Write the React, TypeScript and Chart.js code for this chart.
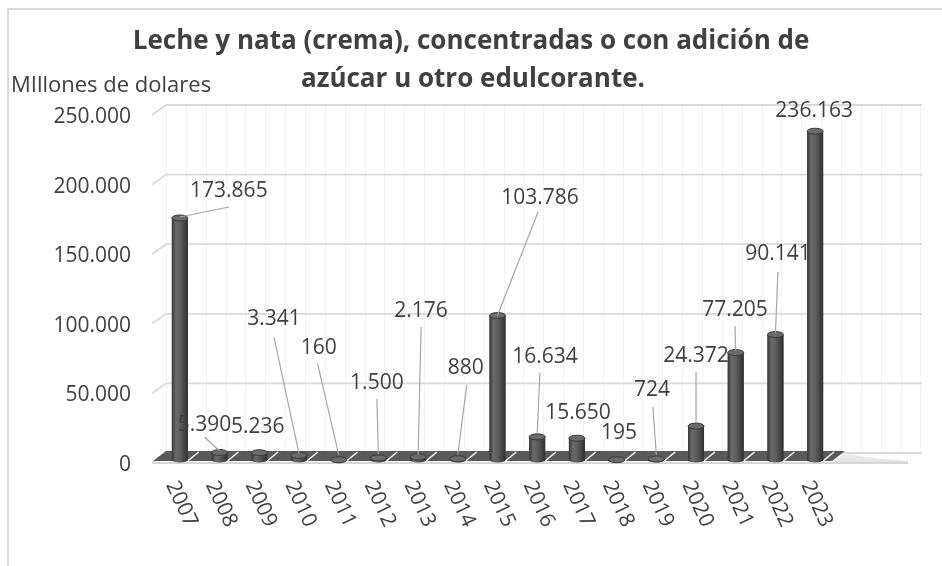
import { useEffect, useRef } from 'react';
import { Chart, registerables } from 'chart.js';

Chart.register(...registerables);

// ---------- data ----------
const years = ['2007', '2008', '2009', '2010', '2011', '2012', '2013', '2014', '2015', '2016', '2017', '2018', '2019', '2020', '2021', '2022', '2023'];
const values = [173865, 5390, 5236, 3341, 160, 1500, 2176, 880, 103786, 16634, 15650, 195, 724, 24372, 77205, 90141, 236163];
const yTicks = [0, 50000, 100000, 150000, 200000, 250000];
const titleLines = ['Leche y nata (crema), concentradas o con adición de', 'azúcar u otro edulcorante.'];
const yAxisTitle = 'MIllones de dolares';

// ---------- label layout (pixel offsets from each bar top; style, not data) ----------
const labelDx = [49, -15, -1.5, -25, -20, -1.5, 3, 8, 42.5, 7.7, 1, 2.3, -4.4, 0, -0.8, 2.5, -1];
const labelDy = [-28, -28.5, -26.7, -137, -113, -76, -147, -92, -118.5, -81, -26, -27.7, -70, -71, -43.5, -81.5, -21];
const hasLeader = [true, true, false, true, true, true, true, true, true, true, false, false, true, true, true, true, false];
const leaderSx = [0, 0, 0, 0, -1, 0, 0, 1, -2, -5, 0, 0, 1, 0, 0, 0, 0];
const leaderSy = [17, 13, 0, 19, 17, 17, 17, 18, 15, 17, 0, 0, 18, 17, 17, 19, 0];
const leaderEy = [-1, -1.5, 0, -2, -5, -4, -2, -4, 0, -3, 0, 0, -4, -3, -1.5, -1.5, 0];

const FONT = '"Open Sans", sans-serif';
const TXT = '#404040';

function fmt(v: number): string {
  return String(v).replace(/\B(?=(\d{3})+(?!\d))/g, '.');
}

const decor = {
  id: 'decor',
  beforeDatasetsDraw(chart: any) {
    const ctx: CanvasRenderingContext2D = chart.ctx;
    const ys = chart.scales.y;
    const xs = chart.scales.x;
    const { left, right } = chart.chartArea;
    ctx.save();
    // outer border
    ctx.strokeStyle = '#d9d9d9';
    ctx.lineWidth = 2;
    ctx.beginPath();
    ctx.moveTo(8, 566);
    ctx.lineTo(8, 9);
    ctx.lineTo(942, 9);
    ctx.stroke();

    const yTop = ys.getPixelForValue(yTicks[yTicks.length - 1]) - 7;
    const yBot = ys.getPixelForValue(0) - 7;
    // faint back-wall verticals
    ctx.strokeStyle = '#f3f3f3';
    ctx.lineWidth = 1;
    const step = (xs.getPixelForValue(1) - xs.getPixelForValue(0)) / 2;
    for (let xx = left + 6; xx <= 923; xx += step) {
      ctx.beginPath();
      ctx.moveTo(Math.round(xx) + 0.5, yTop);
      ctx.lineTo(Math.round(xx) + 0.5, yBot);
      ctx.stroke();
    }
    // horizontal gridlines with 3D stub
    ctx.strokeStyle = '#d9d9d9';
    ctx.lineWidth = 1.8;
    for (const t of yTicks) {
      const yf = ys.getPixelForValue(t);
      const yb = yf - 7;
      ctx.beginPath();
      ctx.moveTo(left - 8, yf + 3);
      ctx.lineTo(left + 6, yb);
      ctx.lineTo(922, yb);
      ctx.stroke();
    }
    // floor
    const y0 = ys.getPixelForValue(0);
    const fFront = y0 + 1;
    const fBack = y0 - 9;
    // light shadow wedge + front line
    const wg = ctx.createLinearGradient(0, fBack, 0, fFront + 2);
    wg.addColorStop(0, '#f4f4f4');
    wg.addColorStop(1, '#e2e2e2');
    ctx.fillStyle = wg;
    ctx.beginPath();
    ctx.moveTo(right - 3, fFront + 2);
    ctx.lineTo(right + 10, fBack + 2);
    ctx.lineTo(right + 30, fBack + 6);
    ctx.lineTo(908, fFront);
    ctx.lineTo(908, fFront + 2);
    ctx.closePath();
    ctx.fill();
    ctx.strokeStyle = '#d6d6d6';
    ctx.lineWidth = 2;
    ctx.beginPath();
    ctx.moveTo(left - 7, fFront + 2);
    ctx.lineTo(908, fFront + 2);
    ctx.stroke();
    ctx.fillStyle = '#5a5a5a';
    ctx.beginPath();
    ctx.moveTo(left - 7, fFront);
    ctx.lineTo(left + 6, fBack);
    ctx.lineTo(right + 10, fBack);
    ctx.lineTo(right - 3, fFront);
    ctx.closePath();
    ctx.fill();
    // separators
    ctx.strokeStyle = '#ffffff';
    ctx.lineWidth = 1.4;
    const w = step * 2;
    for (let i = 1; i <= years.length; i++) {
      const bx = left + i * w - 6;
      ctx.beginPath();
      ctx.moveTo(bx - 6, fFront);
      ctx.lineTo(bx + 5, fBack + 1);
      ctx.stroke();
    }
    ctx.restore();
  },
  afterDatasetsDraw(chart: any) {
    const ctx: CanvasRenderingContext2D = chart.ctx;
    const ys = chart.scales.y;
    const xs = chart.scales.x;
    const meta = chart.getDatasetMeta(0);
    ctx.save();
    // cylinder shading and caps
    meta.data.forEach((el: any) => {
      const hw = el.width / 2;
      const x0 = el.x - hw;
      const g = ctx.createLinearGradient(x0, 0, x0 + el.width, 0);
      g.addColorStop(0, '#363636');
      g.addColorStop(0.25, '#6a6a6a');
      g.addColorStop(0.5, '#5f5f5f');
      g.addColorStop(0.8, '#444444');
      g.addColorStop(1, '#2f2f2f');
      ctx.fillStyle = g;
      ctx.fillRect(x0, el.y, el.width, el.base - el.y);
      // bottom rounding
      ctx.beginPath();
      ctx.ellipse(el.x, el.base, hw, 2.5, 0, 0, Math.PI);
      ctx.fill();
      // top cap
      ctx.beginPath();
      ctx.ellipse(el.x, el.y, hw, 3, 0, 0, Math.PI * 2);
      ctx.fillStyle = '#6b6b6b';
      ctx.fill();
      ctx.strokeStyle = '#3a3a3a';
      ctx.lineWidth = 1;
      ctx.stroke();
    });
    // leaders + labels
    ctx.font = `21px ${FONT}`;
    ctx.textAlign = 'center';
    ctx.textBaseline = 'middle';
    meta.data.forEach((el: any, i: number) => {
      const lx = el.x + labelDx[i];
      const ly = el.y + labelDy[i];
      if (hasLeader[i]) {
        ctx.strokeStyle = '#a6a6a6';
        ctx.lineWidth = 1.2;
        ctx.beginPath();
        ctx.moveTo(lx + leaderSx[i], ly + leaderSy[i]);
        ctx.lineTo(el.x, el.y + leaderEy[i]);
        ctx.stroke();
      }
      ctx.fillStyle = TXT;
      ctx.fillText(fmt(values[i]), lx, ly + 1);
    });
    // x labels rotated
    ctx.font = `21px ${FONT}`;
    ctx.fillStyle = TXT;
    years.forEach((yr, i) => {
      const tx = xs.getPixelForValue(i);
      ctx.save();
      ctx.translate(tx + 1.5, 504);
      ctx.rotate((65 * Math.PI) / 180);
      ctx.textAlign = 'center';
      ctx.textBaseline = 'middle';
      ctx.fillText(yr, 0, 0);
      ctx.restore();
    });
    // y tick labels
    ctx.textAlign = 'right';
    ctx.textBaseline = 'middle';
    yTicks.forEach((t) => {
      ctx.fillText(fmt(t), 131, ys.getPixelForValue(t) + 5);
    });
    // axis title
    ctx.textAlign = 'left';
    ctx.font = `22px ${FONT}`;
    ctx.fillText(yAxisTitle, 11, 86);
    // chart title
    ctx.textAlign = 'center';
    ctx.font = `bold 26px ${FONT}`;
    ctx.fillText(titleLines[0], 471, 42);
    ctx.fillText(titleLines[1], 473, 80);
    ctx.restore();
  },
};

export default function App() {
  const ref = useRef<HTMLCanvasElement | null>(null);
  useEffect(() => {
    if (!ref.current) return;
    const chart = new Chart(ref.current, {
      type: 'bar',
      data: {
        labels: years,
        datasets: [
          {
            data: values,
            backgroundColor: '#555555',
            borderWidth: 0,
            barPercentage: 0.403,
            categoryPercentage: 1,
          },
        ],
      },
      options: {
        responsive: false,
        animation: false,
        devicePixelRatio: 1,
        layout: { padding: { left: 160, right: 107, top: 112, bottom: 106 } },
        scales: {
          x: { display: false, offset: true, grid: { display: false } },
          y: { display: false, min: 0, max: 250000, grid: { display: false } },
        },
        plugins: { legend: { display: false }, tooltip: { enabled: false }, title: { display: false } },
      },
      plugins: [decor],
    });
    return () => chart.destroy();
  }, []);
  return (
    <div style={{ position: 'absolute', left: 0, top: 0, width: 942, height: 566, background: '#ffffff' }}>
      <canvas ref={ref} width={942} height={566} style={{ display: 'block', width: 942, height: 566 }} />
    </div>
  );
}
